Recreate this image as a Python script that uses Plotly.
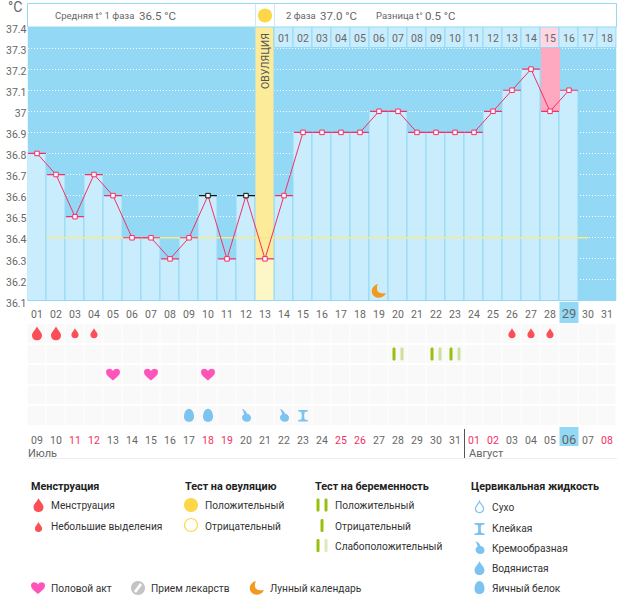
import plotly.graph_objects as go

W, H = 626, 595
days = list(range(1, 32))
temps = [36.8, 36.7, 36.5, 36.7, 36.6, 36.4, 36.4, 36.3, 36.4, 36.6, 36.3, 36.6, 36.3, 36.6,
         36.9, 36.9, 36.9, 36.9, 37.0, 37.0, 36.9, 36.9, 36.9, 36.9, 37.0, 37.1, 37.2, 37.0, 37.1, None, None]
black_days = [10, 12]
ovulation_day = 13
coverline = 36.4
coverline_days = [1.5, 30]
pink_day = 28
pink_top = 37.3
y_vals = [36.1, 36.2, 36.3, 36.4, 36.5, 36.6, 36.7, 36.8, 36.9, 37.0, 37.1, 37.2, 37.3, 37.4]
y_text = ['36.1', '36.2', '36.3', '36.4', '36.5', '36.6', '36.7', '36.8', '36.9', '37', '37.1', '37.2', '37.3', '37.4']
cycle_labels = ['%02d' % d for d in days]
phase_days = list(range(14, 32))
phase_labels = ['%02d' % d for d in range(1, 19)]
date_labels = ['09', '10', '11', '12', '13', '14', '15', '16', '17', '18', '19', '20', '21', '22', '23', '24', '25',
               '26', '27', '28', '29', '30', '31', '01', '02', '03', '04', '05', '06', '07', '08']
red_dates = [3, 4, 10, 11, 17, 18, 24, 25, 31]
today_cycle = 29
heavy_days = [1, 2]
light_days = [3, 4, 26, 27, 28]
preg_weak_days = [20, 22, 23]
heart_days = [5, 7, 10]
egg_days = [9, 10]
cream_days = [12, 14]
sticky_days = [15]
moon_day = 19

BLUE = '#93d9f6'
LIGHT = '#caedfd'
GRAY = '#666666'
RED = '#f52f65'
DROP = '#fb4f57'
SKY = '#7cc3f1'
GREEN = '#97c10c'
PALE = '#cfe09a'
FONT = 'Roboto'

fig = go.Figure()
bar_days = [d for d in days if temps[d - 1] is not None and d != ovulation_day]
line = dict(color=BLUE, width=1)
fig.add_bar(x=bar_days, y=[round(temps[d - 1] - 36.1, 2) for d in bar_days], base=36.1, width=1,
            marker=dict(color=LIGHT, line=line))
fig.add_bar(x=[ovulation_day], y=[round(temps[ovulation_day - 1] - 36.1, 2)], base=36.1, width=1,
            marker=dict(color='#fdf6c6', line=line))
fig.add_bar(x=[ovulation_day], y=[round(37.4 - temps[ovulation_day - 1], 2)], base=temps[ovulation_day - 1], width=1,
            marker=dict(color='#fcec9a', line=line))
fig.add_bar(x=[pink_day], y=[round(pink_top - temps[pink_day - 1], 2)], base=temps[pink_day - 1], width=1,
            marker=dict(color='#ffa9c1', line=dict(width=0)))
fig.add_bar(x=phase_days, y=[0.1] * len(phase_days), base=37.3, width=1,
            marker=dict(color=['#ffd6e1' if d == pink_day else LIGHT for d in phase_days], line=line))
fig.add_scatter(x=phase_days, y=[37.34] * len(phase_days), mode='text', text=phase_labels,
                textfont=dict(family=FONT, size=10.5, color=GRAY))
fig.add_scatter(x=coverline_days, y=[coverline, coverline], mode='lines', line=dict(color='#f8e98c', width=1.5))
red_days = [d for d in days if temps[d - 1] is not None and d not in black_days]
fig.add_scatter(x=red_days, y=[temps[d - 1] for d in red_days], mode='markers', marker=dict(size=1, opacity=0),
                error_x=dict(type='constant', value=0.47, width=0, color=RED, thickness=1.2))
fig.add_scatter(x=black_days, y=[temps[d - 1] for d in black_days], mode='markers', marker=dict(size=1, opacity=0),
                error_x=dict(type='constant', value=0.47, width=0, color='#111111', thickness=1.2))
fig.add_scatter(x=days, y=temps, mode='lines+markers', line=dict(color=RED, width=1),
                marker=dict(symbol='square', size=4.5, color='white',
                            line=dict(width=1, color=['#111111' if d in black_days else RED for d in days])))
fig.add_heatmap(x=days, y=[1, 2, 3, 4, 5], z=[[1] * 31] * 5, xaxis='x2', yaxis='y2', showscale=False,
                colorscale=[[0, '#f9f9f9'], [1, '#f9f9f9']], xgap=1, ygap=2, hoverinfo='skip')
fig.add_scatter(x=[None], y=[None], xaxis='x3', yaxis='y3', mode='markers', hoverinfo='skip')


def c(color, text):
    return '<span style="color:%s">%s</span>' % (color, text)


x1_text = [('<span style="font-size:13px">%s</span>' % t) if d == today_cycle else t
           for d, t in zip(days, cycle_labels)]
x2_text = [c('#f52f65', t) if d in red_dates else ('<span style="font-size:13px">%s</span>' % t if t == '06' else t)
           for d, t in zip(days, date_labels)]
xdom = [27.5 / W, 616.5 / W]
fig.update_layout(
    width=W, height=H, margin=dict(l=0, r=0, t=0, b=0, autoexpand=False), paper_bgcolor='white', plot_bgcolor='rgba(0,0,0,0)',
    barmode='overlay', showlegend=False, bargap=0,
    font=dict(family=FONT, size=10.5, color=GRAY),
    xaxis=dict(domain=xdom, range=[0.5, 31.5], tickmode='array', tickvals=days, ticktext=x1_text, showgrid=False, automargin=False,
               zeroline=False, ticks='outside', ticklen=3, tickcolor='rgba(0,0,0,0)', tickangle=0,
               tickfont=dict(family=FONT, size=10.5, color=GRAY), anchor='y'),
    yaxis=dict(domain=[1 - 301 / H, 1 - 27 / H], range=[36.1, 37.4], tickmode='array', tickvals=y_vals, ticktext=y_text, automargin=False,
               showgrid=True, gridcolor='white', griddash='1px 2px', gridwidth=1, zeroline=False, ticklabelshift=2,
               tickfont=dict(family=FONT, size=10.5, color=GRAY), anchor='x'),
    xaxis2=dict(domain=xdom, range=[0.5, 31.5], tickmode='array', tickvals=days, ticktext=x2_text, showgrid=False, automargin=False,
                zeroline=False, ticks='outside', ticklen=4, tickcolor='rgba(0,0,0,0)', tickangle=0,
                tickfont=dict(family=FONT, size=10.5, color=GRAY), anchor='y2'),
    yaxis2=dict(domain=[1 - 426 / H, 1 - 323 / H], range=[5.5, 0.5], showticklabels=False, showgrid=False, automargin=False,
                zeroline=False, anchor='x2'),
    xaxis3=dict(domain=[0, 1], range=[0, W], visible=False, anchor='y3', automargin=False),
    yaxis3=dict(domain=[0, 1], range=[H, 0], visible=False, anchor='x3', automargin=False),
)


def scale(path, s):
    out = []
    for tok in path.split():
        if ',' in tok:
            head = ''
            if tok[0].isalpha():
                head, tok = tok[0], tok[1:]
            a, b = tok.split(',')
            out.append('%s%.2f,%.2f' % (head, float(a) * s, float(b) * s))
        else:
            out.append(tok)
    return ' '.join(out)


DROP_P = 'M0,7 C-1,4 -5,1 -5,-2 C-5,-5 -3,-7 0,-7 C3,-7 5,-5 5,-2 C5,1 1,4 0,7 Z'
HEART_P = 'M0,-6 C-3,-3 -7,-1 -7,2.5 C-7,6 -2,7 0,3.5 C2,7 7,6 7,2.5 C7,-1 3,-3 0,-6 Z'
EGG_P = 'M0,7 C3,7 5,3 5,-1 C5,-4 3,-6 0,-6 C-3,-6 -5,-4 -5,-1 C-5,3 -3,7 0,7 Z'
CREAM_P = 'M-4,7 C-1,6 1,3 1,2 C3,2 5,0 5,-2 C5,-5 3,-6 1,-6 C-2,-6 -4,-4 -4,-2 C-4,0 -3,1 -2,1 C-2,3 -3,5 -4,7 Z'
STICKY_P = 'M-5,6 L5,6 L5,4.5 L2,4 C1,2 1,-2 2,-4 L5,-4.5 L5,-6 L-5,-6 L-5,-4.5 L-2,-4 C-1,-2 -1,2 -2,4 L-5,4.5 Z'
MOON_P = 'M-1,7 C-6,6 -8,1 -7,-2 C-6,-6 -1,-8 3,-6 C5,-5 6,-4 7,-2 C3,-3 -2,-2 -2,2 C-2,4 -2,6 -1,7 Z'
CIRCLE_P = 'M-7,0 C-7,4 -4,7 0,7 C4,7 7,4 7,0 C7,-4 4,-7 0,-7 C-4,-7 -7,-4 -7,0 Z'
BAR_P = 'M-1.5,5 C-1.5,6 -1,6.5 0,6.5 C1,6.5 1.5,6 1.5,5 L1.5,-5 C1.5,-6 1,-6.5 0,-6.5 C-1,-6.5 -1.5,-6 -1.5,-5 Z'

shapes = [dict(type='rect', xref='x', yref='y', x0=0.5, x1=31.5, y0=36.1, y1=37.4, fillcolor=BLUE, line_width=0, layer='below')]


def glyph(path, x, y, color, xref='x3', yref='y3', outline=None, s=1, dx=0):
    p = scale(path, s)
    if dx:
        toks = []
        for tok in p.split():
            if ',' in tok:
                head = tok[0] if tok[0].isalpha() else ''
                a, b = tok[len(head):].split(',')
                toks.append('%s%.2f,%s' % (head, float(a) + dx, b))
            else:
                toks.append(tok)
        p = ' '.join(toks)
    shapes.append(dict(type='path', path=p, xsizemode='pixel', ysizemode='pixel', xanchor=x, yanchor=y, xref=xref,
                       yref=yref, fillcolor=color if outline is None else 'white', layer='above',
                       line=dict(width=0 if outline is None else 1.2, color=outline or color)))


def rect_px(x0, x1, y0, y1, **kw):
    shapes.append(dict(type='rect', xref='x3', yref='y3', x0=x0, x1=x1, y0=y0, y1=y1, **kw))


def line_px(x0, x1, y0, y1, color):
    shapes.append(dict(type='line', xref='x3', yref='y3', x0=x0, x1=x1, y0=y0, y1=y1, layer='above',
                       line=dict(color=color, width=1)))


for d in heavy_days:
    glyph(DROP_P, d, 1, DROP, 'x2', 'y2')
for d in light_days:
    glyph(DROP_P, d, 1, DROP, 'x2', 'y2', s=0.72)
for d in preg_weak_days:
    glyph(BAR_P, d, 2, GREEN, 'x2', 'y2', dx=-4)
    glyph(BAR_P, d, 2, PALE, 'x2', 'y2', dx=4)
for d in heart_days:
    glyph(HEART_P, d, 3, '#ff55bb', 'x2', 'y2')
for d in egg_days:
    glyph(EGG_P, d, 5, SKY, 'x2', 'y2')
for d in cream_days:
    glyph(CREAM_P, d, 5, SKY, 'x2', 'y2')
for d in sticky_days:
    glyph(STICKY_P, d, 5, SKY, 'x2', 'y2', s=0.95)
glyph(MOON_P, moon_day, 36.147, '#f39a1e', 'x', 'y')

# highlighted cells behind the date labels
shapes.append(dict(type='rect', xref='x', yref='paper', x0=today_cycle - 0.5, x1=today_cycle + 0.5, y0=1 - 323 / H, y1=1 - 302 / H,
                   fillcolor=BLUE, line_width=0, layer='below'))
shapes.append(dict(type='rect', xref='x', yref='paper', x0=today_cycle - 0.5, x1=today_cycle + 0.5, y0=1 - 446 / H, y1=1 - 427 / H,
                   fillcolor=BLUE, line_width=0, layer='below'))
# header
rect_px(27.5, 616.5, 3.5, 27, fillcolor='white', line=dict(color=BLUE, width=1), layer='above')
for xp in (255.5, 274.5):
    line_px(xp, xp, 3.5, 27, '#c9ecfc')
glyph(CIRCLE_P, 265, 15.5, '#fdd748')
# month separator and rule
line_px(464.5, 464.5, 429, 458, '#555555')
line_px(27, 617, 458.5, 458.5, '#eeeeee')
# legend glyphs
glyph(DROP_P, 38.5, 505, DROP)
glyph(DROP_P, 38.5, 527, DROP, s=0.72)
glyph(CIRCLE_P, 191, 505, '#fdd748')
glyph(CIRCLE_P, 191, 525, '#fdd748', outline='#fdd748', s=0.93)
for xp, yp, col in [(318, 505, GREEN), (326, 505, GREEN), (322, 525.5, GREEN), (318, 545.5, GREEN), (326, 545.5, '#dfe8bd')]:
    glyph(BAR_P, xp, yp, col)
glyph(DROP_P, 479.5, 507, SKY, outline=SKY, s=0.8)
glyph(STICKY_P, 479.5, 529, SKY)
glyph(CREAM_P, 479.5, 548, SKY)
glyph(DROP_P, 479.5, 568, SKY)
glyph(EGG_P, 479.5, 588, SKY)
glyph(HEART_P, 38, 588, '#ff55bb')
glyph(CIRCLE_P, 138, 588, '#c4c4c4')
glyph('M-4,-3 L-2,-5 L4,3 L2,5 Z', 138, 588, 'white')
glyph(MOON_P, 257, 588, '#f39a1e')
fig.update_layout(shapes=shapes)

notes = []


def T(x, y, text, size=11, color='#666666', bold=False, angle=0, anchor='left'):
    notes.append(dict(xref='x3', yref='y3', x=x, y=y, text='<b>%s</b>' % text if bold else text, borderpad=0,
                      showarrow=False, xanchor=anchor, yanchor='middle', textangle=angle,
                      font=dict(family=FONT, size=size, color=color)))


T(7, 6.5, '°C', 14)
T(54, 15.5, 'Средняя t° 1 фаза', 9.5)
T(138, 15.5, '36.5 °C', 11.5)
T(285, 15.5, '2 фаза', 9.5)
T(319, 15.5, '37.0 °C', 11.5)
T(375, 15.5, 'Разница t°', 9.5)
T(424, 15.5, '0.5 °C', 11.5)
T(265, 61, 'ОВУЛЯЦИЯ', 10.5, '#555555', angle=-90, anchor='center')
T(27, 453, 'Июль', 11)
T(468, 453, 'Август', 11)
DARK = '#333333'
for x, y, t in [(30, 486, 'Менструация'), (184, 486, 'Тест на овуляцию'), (314, 486, 'Тест на беременность'),
                (470, 486, 'Цервикальная жидкость')]:
    T(x, y, t, 10.8, '#222222', bold=True)
for x, y, t in [(50, 505, 'Менструация'), (50, 526, 'Небольшие выделения'), (204, 505, 'Положительный'),
                (204, 526, 'Отрицательный'), (334, 505, 'Положительный'), (334, 526, 'Отрицательный'),
                (334, 546, 'Слабоположительный'), (491, 507, 'Сухо'), (491, 528, 'Клейкая'), (491, 548, 'Кремообразная'),
                (491, 568, 'Водянистая'), (491, 588, 'Яичный белок'), (50, 588, 'Половой акт'),
                (150, 588, 'Прием лекарств'), (269, 588, 'Лунный календарь')]:
    T(x, y, t, 10.2, DARK)
fig.update_layout(annotations=notes)

fig.write_html('out.html', config=dict(displayModeBar=False),
               post_script="document.body.style.margin='0';document.documentElement.style.overflow='hidden';")
